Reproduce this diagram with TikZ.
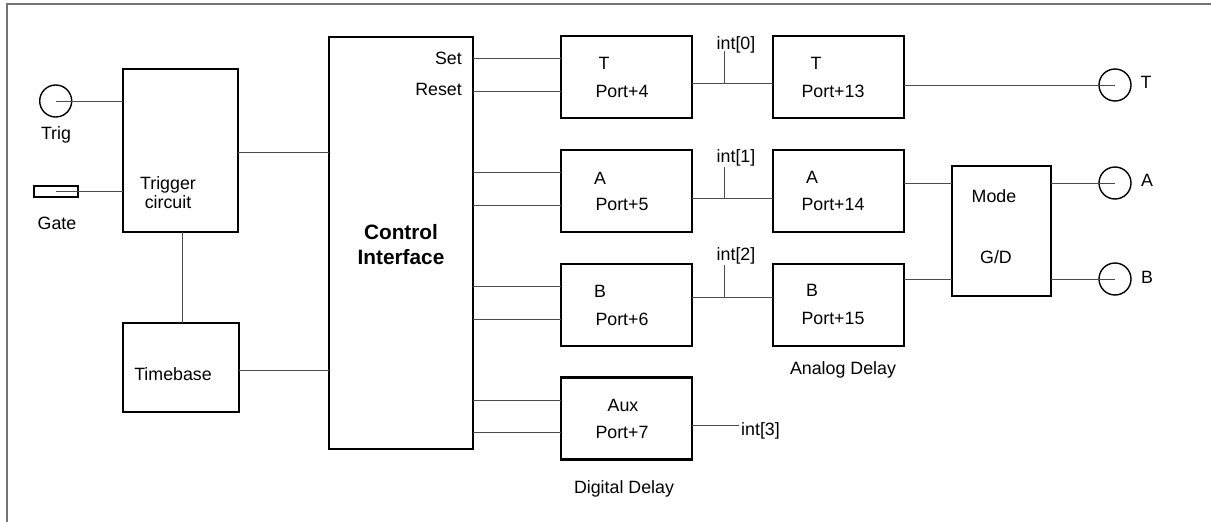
\documentclass[tikz,border=0pt]{standalone}
\usepackage{fontspec}
\setmainfont{Liberation Sans}
\usetikzlibrary{calc}
\begin{document}
\begin{tikzpicture}[x=1pt,y=-1pt,
  box/.style={draw, line width=2.2pt, inner sep=0pt, outer sep=0pt},
  port/.style={draw, circle, line width=1.4pt, minimum size=32pt, inner sep=0pt, outer sep=0pt},
  conn/.style={draw=black!70, line width=1pt},
  frame/.style={draw=black!55, line width=1.8pt},
  lbl/.style={inner sep=0pt, font=\fontsize{17.8}{19}\selectfont, text height=12.7pt, text depth=0pt},
  mlbl/.style={inner sep=0pt, align=center, font=\fontsize{17.8}{19}\selectfont},
  blbl/.style={inner sep=0pt, align=center, font=\fontsize{20.8}{25}\selectfont\bfseries},
]
\useasboundingbox (0,0) rectangle (1211,522);
% frame
\coordinate (fc) at (7,4);
\coordinate (fr) at (1211,4);
\coordinate (fb) at (7,522);
\draw[frame] (fr) -- (fc) -- (fb);

% left part
\node[port] (trigc) at (55.7,101) {};
\node[draw, line width=1.4pt, minimum width=44pt, minimum height=11pt, inner sep=0pt, outer sep=0pt] (gate) at (56,191.5) {};
\node[box, minimum width=115pt, minimum height=163pt] (trigger) at (180.5,150.5) {};
\node[box, minimum width=116pt, minimum height=89pt] (timebase) at (181,367.5) {};
\node[box, minimum width=144pt, minimum height=412pt] (ctrl) at (401,243) {};

% port boxes
\foreach \n/\y in {tbox/77, abox/191, bbox/305, auxbox/418.5}
  \node[box, minimum width=131pt, minimum height=82pt] (\n) at (626.5,\y) {};
\foreach \n/\y in {t2/77, a2/191, b2/305}
  \node[box, minimum width=131pt, minimum height=82pt] (\n) at (838.5,\y) {};
\node[box, minimum width=99pt, minimum height=130pt] (mode) at (1001.5,231) {};
\node[port] (tc) at (1115,85) {};
\node[port] (ac) at (1115,183) {};
\node[port] (bc) at (1115,279) {};

% texts
\node[lbl] (trigt) at (56,133) {Trig};
\node[lbl] (gatet) at (57,223) {Gate};
\node[mlbl] (trigtx) at (168,193) {Trigger\\circuit};
\node[lbl] (tbt) at (173,374) {Timebase};
\node[blbl] (ctrlt) at (401,244.5) {Control\\Interface};
\node[lbl, anchor=east] (sett) at (462,58) {Set};
\node[lbl, anchor=east] (resett) at (462,89) {Reset};

\node[lbl] at (604,63) {T};
\node[lbl] at (622,91) {Port+4};
\node[lbl] at (600,178) {A};
\node[lbl] at (622,204) {Port+5};
\node[lbl] at (600,291) {B};
\node[lbl] at (622,319) {Port+6};
\node[lbl] at (623,405) {Aux};
\node[lbl] at (622,432) {Port+7};
\node[lbl] at (816,63) {T};
\node[lbl] at (833,91) {Port+13};
\node[lbl] at (812,177) {A};
\node[lbl] at (833,204) {Port+14};
\node[lbl] at (812,290) {B};
\node[lbl] at (833,318) {Port+15};
\node[lbl] at (994,196) {Mode};
\node[lbl] at (996,257) {G/D};
\node[lbl] at (1146,82) {T};
\node[lbl] at (1147,180) {A};
\node[lbl] at (1147,277) {B};
\node[lbl] (i0) at (736,43) {int[0]};
\node[lbl] (i1) at (736,156) {int[1]};
\node[lbl] (i2) at (736,254) {int[2]};
\node[lbl, anchor=west] (i3) at (741,429) {int[3]};
\node[lbl] at (624,487) {Digital Delay};
\node[lbl] at (843,368) {Analog Delay};

% connectors left
\draw[conn] (trigc.center) -- (trigc.center -| trigger.west);
\draw[conn] (gate.center) -- (gate.center -| trigger.west);
\coordinate (tr1) at ($(trigger.east)+(0,1.5)$);
\draw[conn] (tr1) -- (tr1 -| ctrl.west);
\coordinate (tr2) at ($(trigger.south)+(1.5,0)$);
\draw[conn] (tr2) -- (tr2 |- timebase.north);
\coordinate (tb1) at ($(timebase.east)+(0,2.5)$);
\draw[conn] (tb1) -- (tb1 -| ctrl.west);

% control -> port boxes
\foreach \b in {tbox,abox,bbox,auxbox}{
  \coordinate (\b-s) at ($(\b.west)+(0,-18.5)$);
  \coordinate (\b-r) at ($(\b.west)+(0,14)$);
  \draw[conn] (\b-s -| ctrl.east) -- (\b-s);
  \draw[conn] (\b-r -| ctrl.east) -- (\b-r);
}

% digital -> analog
\coordinate (j0) at ($(tbox.east)+(0,6)$);
\coordinate (j1) at ($(abox.east)+(0,7)$);
\coordinate (j2) at ($(bbox.east)+(0,-8)$);
\draw[conn] (j0) -- (j0 -| t2.west);
\draw[conn] (j1) -- (j1 -| a2.west);
\draw[conn] (j2) -- (j2 -| b2.west);
\coordinate (k0) at (724,51);
\coordinate (k1) at (724,167);
\coordinate (k2) at (724,265);
\draw[conn] (k0) -- (k0 |- j0);
\draw[conn] (k1) -- (k1 |- j1);
\draw[conn] (k2) -- (k2 |- j2);
\coordinate (j3) at ($(auxbox.east)+(0,6.5)$);
\coordinate (j3e) at (739,425);
\draw[conn] (j3) -- (j3e);

% outputs
\draw[conn] (tc.center -| t2.east) -- (tc.center);
\draw[conn] (ac.center -| a2.east) -- (ac.center -| mode.west);
\draw[conn] (ac.center -| mode.east) -- (ac.center);
\draw[conn] (bc.center -| b2.east) -- (bc.center -| mode.west);
\draw[conn] (bc.center -| mode.east) -- (bc.center);
\end{tikzpicture}
\end{document}
